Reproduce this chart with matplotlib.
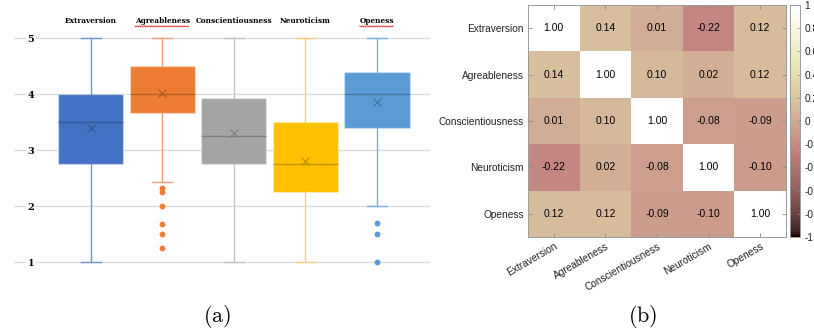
import matplotlib
matplotlib.use("Agg")
import matplotlib.pyplot as plt
import matplotlib.colors as mcolors
import numpy as np

plt.rcParams["mathtext.fontset"] = "cm"

# ── Daten ─────────────────────────────────────────────────────────────────────
traits = ["Extraversion", "Agreableness", "Conscientiousness", "Neuroticism", "Openess"]

q1 = [2.75, 3.66, 2.75, 2.25, 3.39]
median = [3.5, 4.0, 3.25, 2.75, 4.0]
q3 = [4.0, 4.5, 3.93, 3.5, 4.4]
whis_lo = [1.0, 2.43, 1.0, 1.0, 2.0]
whis_hi = [5.0, 5.0, 5.0, 5.0, 5.0]
means = [3.39, 4.02, 3.31, 2.81, 3.85]
outliers = [
    [],
    [2.33, 2.25, 2.0, 1.67, 1.5, 1.25],
    [],
    [],
    [1.7, 1.5, 1.0],
]

box_colors = ["#4472C4", "#ED7D31", "#A5A5A5", "#FFC000", "#5B9BD5"]
whisker_colors = ["#6f93d3", "#eba07c", "#c4c4c4", "#efd184", "#7daee0"]
misspelled = {"Agreableness", "Openess"}

corr = np.array([
    [1.00, 0.14, 0.01, -0.22, 0.12],
    [0.14, 1.00, 0.10, 0.02, 0.12],
    [0.01, 0.10, 1.00, -0.08, -0.09],
    [-0.22, 0.02, -0.08, 1.00, -0.10],
    [0.12, 0.12, -0.09, -0.10, 1.00],
])
cbar_ticks = [1, 0.8, 0.6, 0.4, 0.2, 0, -0.2, -0.4, -0.6, -0.8, -1]

# ── Layout in Pixeln ──────────────────────────────────────────────────────────
W, H = 814, 333
fig = plt.figure(figsize=(W / 100, H / 100), dpi=100)


def px_axes(x0, y0, x1, y1):
    return fig.add_axes([x0 / W, 1 - y1 / H, (x1 - x0) / W, (y1 - y0) / H])


def shade(color, f):
    r, g, b = mcolors.to_rgb(color)
    return (r * f, g * f, b * f)


# ── (a) Boxplots ──────────────────────────────────────────────────────────────
ax = px_axes(14, 10, 430, 290)
stats = []
for i, name in enumerate(traits):
    stats.append(dict(label=name, q1=q1[i], med=median[i], q3=q3[i],
                      whislo=whis_lo[i], whishi=whis_hi[i],
                      mean=means[i], fliers=outliers[i]))

pos = np.arange(len(traits))
bp = ax.bxp(stats, positions=pos, widths=0.913, patch_artist=True,
            showmeans=True, showfliers=True)
for i in range(len(traits)):
    c = box_colors[i]
    bp["boxes"][i].set(facecolor=c, edgecolor=mcolors.to_rgba("white", 0.35), linewidth=1.0)
    bp["medians"][i].set(color=shade(c, 0.72), linewidth=1.0, alpha=0.8)
    bp["means"][i].set(marker="x", markeredgecolor=shade(c, 0.7),
                       markersize=6, markeredgewidth=0.9, alpha=0.8)
    for w in bp["whiskers"][2 * i:2 * i + 2]:
        w.set(color=whisker_colors[i], linewidth=1.0)
    for cp in bp["caps"][2 * i:2 * i + 2]:
        cp.set(color=whisker_colors[i], linewidth=1.0, xdata=[pos[i] - 0.14, pos[i] + 0.14])
    bp["fliers"][i].set(marker="o", markerfacecolor=c, markeredgecolor=c,
                        markersize=3.2)

ax.set_xlim(-1.07, 4.74)
ax.set_ylim(0.5, 5.5)
ax.set_yticks([1, 2, 3, 4, 5])
ax.yaxis.grid(True, color="#dcdcdc", linewidth=1.0)
ax.set_axisbelow(True)
ax.set_xticks([])
ax.tick_params(axis="y", length=0, pad=-14.5)
for lbl in ax.get_yticklabels():
    lbl.set(fontfamily="DejaVu Serif", fontweight="bold", fontsize=7,
            bbox=dict(facecolor="white", edgecolor="none", pad=1.0))
for s in ax.spines.values():
    s.set_visible(False)

name_texts = []
for i, name in enumerate(traits):
    t = ax.text(pos[i], 5.30, name, ha="center", va="center",
                fontfamily="DejaVu Serif", fontweight="bold", fontsize=5.3)
    name_texts.append(t)

# ── (b) Korrelationsmatrix ────────────────────────────────────────────────────
hx = px_axes(528, 5, 786, 237)
im = hx.imshow(corr, cmap="pink", vmin=-1, vmax=1, aspect="auto")
for i in range(corr.shape[0]):
    for j in range(corr.shape[1]):
        hx.text(j, i, f"{corr[i, j]:.2f}", ha="center", va="center",
                fontfamily="Liberation Sans", fontsize=7.5, color="black")
hx.set_xticks(pos)
hx.set_yticks(pos)
hx.set_xticklabels(traits, rotation=30, ha="right", rotation_mode="anchor",
                   fontfamily="Liberation Sans", fontsize=7.3, color="#222222")
hx.set_yticklabels(traits, fontfamily="Liberation Sans", fontsize=7.3, color="#222222")
hx.tick_params(direction="in", length=3, color="#888888", width=0.6,
               top=True, right=True, pad=3)
for s in hx.spines.values():
    s.set_color("#9a9a9a")
    s.set_linewidth(0.7)

cax = px_axes(790, 5, 800, 237)
cb = fig.colorbar(im, cax=cax, ticks=cbar_ticks)
cb.ax.set_yticklabels([f"{t:g}" for t in cbar_ticks], fontfamily="Liberation Sans",
                      fontsize=7.3, color="#222222")
cb.ax.tick_params(direction="in", length=2, width=0.5, color="#888888", pad=3)
cb.outline.set_edgecolor("#9a9a9a")
cb.outline.set_linewidth(0.7)

# ── Unterschriften ────────────────────────────────────────────────────────────
fig.text(217 / W, 1 - 316.5 / H, r"$\mathrm{(a)}$", ha="center", va="center", fontsize=16)
fig.text(643 / W, 1 - 316.5 / H, r"$\mathrm{(b)}$", ha="center", va="center", fontsize=16)

# rote Wellenlinie unter den falsch geschriebenen Namen
renderer = fig.canvas.get_renderer()
for t in name_texts:
    if t.get_text() not in misspelled:
        continue
    bb = t.get_window_extent(renderer)
    xs = np.arange(bb.x0, bb.x1, 1.2)
    ys = bb.y0 - 1.2 + 0.6 * (-1) ** np.arange(len(xs))
    fig.add_artist(plt.Line2D(xs, ys, transform=None, color="#e03030", linewidth=0.6))

fig.savefig("out.png", dpi=100)
